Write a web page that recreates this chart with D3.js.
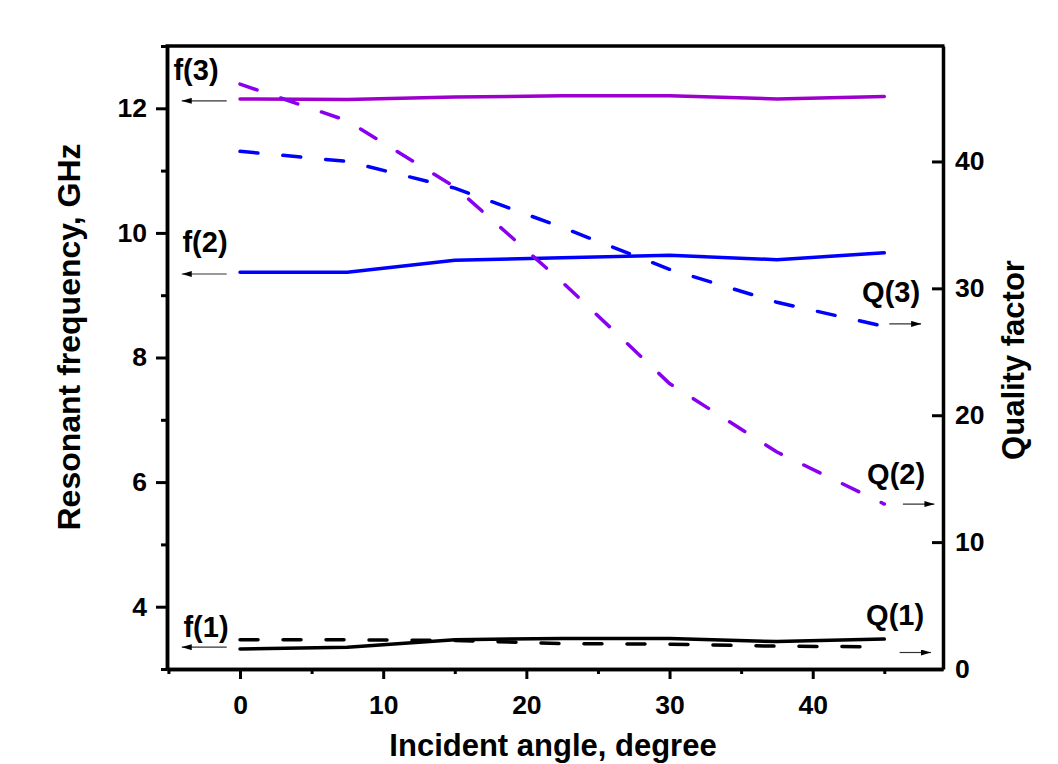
<!DOCTYPE html>
<html>
<head>
<meta charset="utf-8">
<script src="https://cdn.jsdelivr.net/npm/d3@7"></script>
<style>
  body { margin: 0; background: #fff; }
  text { font-family: "Liberation Sans", Arial, sans-serif; font-weight: bold; fill: #000; }
</style>
</head>
<body>
<div id="chart"></div>
<script>
// incident angle, degree
var angles = [0, 7.5, 15, 22.5, 30, 37.5, 45];

// resonant frequency, GHz (left axis)
var f1 = [3.32, 3.35, 3.47, 3.49, 3.49, 3.44, 3.48];
var f2 = [9.37, 9.37, 9.56, 9.60, 9.64, 9.57, 9.68];
var f3 = [12.15, 12.14, 12.18, 12.20, 12.20, 12.15, 12.19];

// quality factor (right axis)
var q1 = [2.3, 2.3, 2.25, 2.0, 1.95, 1.8, 1.75];
var q2 = [46.1, 43.2, 38.0, 30.5, 22.5, 17.1, 13.0];
var q3 = [40.8, 40.0, 37.9, 34.8, 31.5, 28.9, 27.0];

var xTicks = [0, 10, 20, 30, 40];
var xMinor = [-5, 5, 15, 25, 35, 45];
var leftTicks = [4, 6, 8, 10, 12];
var leftMinor = [3, 5, 7, 9, 11, 13];
var rightTicks = [0, 10, 20, 30, 40];

// labels and arrows, in data units
var fNotes = [
  {text: "f(3)", lx: -4.65, ly: 12.45, y: 12.12},
  {text: "f(2)", lx: -4.02, ly: 9.69, y: 9.34},
  {text: "f(1)", lx: -3.95, ly: 3.51, y: 3.35}
];
var qNotes = [
  {text: "Q(3)", lx: 43.45, ly: 28.9, x1: 45.35, x2: 47.57, y: 27.2},
  {text: "Q(2)", lx: 43.8, ly: 14.55, x1: 46.3, x2: 48.5, y: 13.0},
  {text: "Q(1)", lx: 43.73, ly: 3.5, x1: 46.07, x2: 48.26, y: 1.3}
];

var margin = {top: 46, right: 115, bottom: 95, left: 167};
var W = 1058, H = 764;
var width = W - margin.left - margin.right;
var height = H - margin.top - margin.bottom;

var svg = d3.select("#chart").append("svg")
    .attr("width", W)
    .attr("height", H);

svg.append("defs").append("marker")
    .attr("id", "arr")
    .attr("viewBox", "0 0 10 6")
    .attr("refX", 10).attr("refY", 3)
    .attr("markerWidth", 10).attr("markerHeight", 6)
    .attr("markerUnits", "userSpaceOnUse")
    .attr("orient", "auto")
    .append("path").attr("d", "M0,0L10,3L0,6Z").attr("fill", "#000");

var g = svg.append("g").attr("transform", "translate(" + margin.left + "," + margin.top + ")");

var x = d3.scaleLinear().domain([-5.1, 49.1]).range([0, width]);
var yL = d3.scaleLinear().domain([3, 13]).range([height, 0]);
var yR = d3.scaleLinear().domain([0, 49.1]).range([height, 0]);

// axes
g.append("g").attr("transform", "translate(0," + height + ")")
    .call(d3.axisBottom(x).tickValues(xTicks).tickSize(10).tickPadding(16).tickSizeOuter(0));
g.append("g").attr("transform", "translate(0," + height + ")")
    .call(d3.axisBottom(x).tickValues(xMinor).tickSize(5).tickFormat("").tickSizeOuter(0));
g.append("g")
    .call(d3.axisLeft(yL).tickValues(leftTicks).tickSize(11).tickPadding(9).tickSizeOuter(0));
g.append("g")
    .call(d3.axisLeft(yL).tickValues(leftMinor).tickSize(6).tickFormat("").tickSizeOuter(0));
g.append("g").attr("transform", "translate(" + width + ",0)")
    .call(d3.axisRight(yR).tickValues(rightTicks).tickSize(-11).tickPadding(12).tickSizeOuter(0));

g.selectAll(".domain").attr("stroke", "#000").attr("stroke-width", 3.5);
g.selectAll(".tick line").attr("stroke", "#000").attr("stroke-width", 3);
g.selectAll(".tick text").style("font-size", "26.5px");

// frame top
g.append("line").attr("x1", -1.5).attr("x2", width + 1.5).attr("y1", 0).attr("y2", 0)
    .attr("stroke", "#000").attr("stroke-width", 3.5);

// series
var series = [
  {vals: f3, scale: yL, color: "#9d00cc", dash: null},
  {vals: f2, scale: yL, color: "#0000ff", dash: null},
  {vals: f1, scale: yL, color: "#000000", dash: null},
  {vals: q3, scale: yR, color: "#0000ff", dash: "18,25"},
  {vals: q2, scale: yR, color: "#8800ee", dash: "18,25"},
  {vals: q1, scale: yR, color: "#000000", dash: "18,25"}
];

series.forEach(function(s) {
  var line = d3.line()
      .x(function(d, i) { return x(angles[i]); })
      .y(function(d) { return s.scale(d); });
  g.append("path")
      .datum(s.vals)
      .attr("d", line)
      .attr("fill", "none")
      .attr("stroke", s.color)
      .attr("stroke-width", 3.5)
      .attr("stroke-linecap", "round")
      .attr("stroke-dasharray", s.dash);
});

// annotations
fNotes.forEach(function(n) {
  g.append("text").attr("x", x(n.lx)).attr("y", yL(n.ly)).style("font-size", "29px").text(n.text);
  g.append("line")
      .attr("x1", x(-0.93)).attr("x2", x(-4.07))
      .attr("y1", yL(n.y)).attr("y2", yL(n.y))
      .attr("stroke", "#333").attr("stroke-width", 1.2)
      .attr("marker-end", "url(#arr)");
});
qNotes.forEach(function(n) {
  g.append("text").attr("x", x(n.lx)).attr("y", yR(n.ly)).style("font-size", "29px").text(n.text);
  g.append("line")
      .attr("x1", x(n.x1)).attr("x2", x(n.x2))
      .attr("y1", yR(n.y)).attr("y2", yR(n.y))
      .attr("stroke", "#333").attr("stroke-width", 1.2)
      .attr("marker-end", "url(#arr)");
});

// axis titles
svg.append("text")
    .attr("transform", "translate(80," + 337 + ") rotate(-90)")
    .attr("text-anchor", "middle")
    .style("font-size", "32px")
    .text("Resonant frequency, GHz");
svg.append("text")
    .attr("transform", "translate(1024," + 360 + ") rotate(-90)")
    .attr("text-anchor", "middle")
    .style("font-size", "31px")
    .text("Quality factor");
svg.append("text")
    .attr("x", 553).attr("y", 756)
    .attr("text-anchor", "middle")
    .style("font-size", "31px")
    .text("Incident angle, degree");
</script>
</body>
</html>
